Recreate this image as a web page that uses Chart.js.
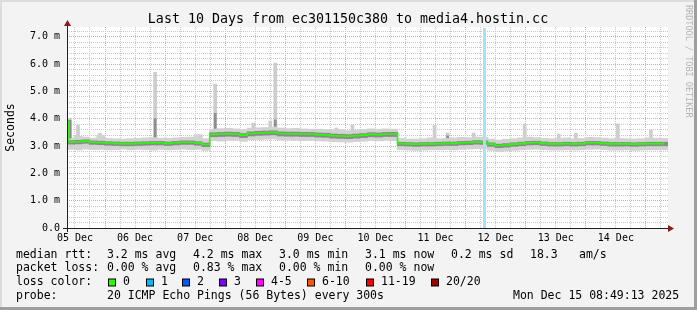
<!DOCTYPE html>
<html>
<head>
<meta charset="utf-8">
<script src="https://cdn.jsdelivr.net/npm/chart.js@4.4.0/dist/chart.umd.min.js"></script>
<style>
  html, body { margin: 0; padding: 0; background: #f3f3f3; }
  canvas { display: block; }
</style>
</head>
<body>
<canvas id="chart" width="697" height="310"></canvas>
<script>
// --- Data (hours counted from 05 Dec 00:00) ---
const startHour = 8.817;   // 05 Dec 08:49
const endHour = 248.817;   // 15 Dec 08:49
const markerHour = 175.2;  // light blue vertical rule

const dayLabels = ['05 Dec', '06 Dec', '07 Dec', '08 Dec', '09 Dec',
                   '10 Dec', '11 Dec', '12 Dec', '13 Dec', '14 Dec'];

// sample times: first sample, then one every 3 hours
const hours = [8.9];
for (let h = 10.3; h <= 247.4; h += 3) hours.push(h);

// median rtt in ms
const medianRtt = [3.90,
  3.15, 3.16, 3.18, 3.14, 3.13, 3.11, 3.10, 3.09, 3.09, 3.10, 3.11, 3.12, 3.12, 3.10, 3.12, 3.14, 3.14, 3.11, 3.06,
  3.43, 3.44, 3.45, 3.44, 3.40, 3.46, 3.48, 3.49, 3.50, 3.46, 3.45, 3.45, 3.44, 3.44, 3.42, 3.41, 3.38, 3.37, 3.36, 3.38, 3.40, 3.43, 3.42, 3.44, 3.44,
  3.09, 3.08, 3.07, 3.08, 3.08, 3.09, 3.10, 3.10, 3.12, 3.13, 3.15, 3.14, 3.07, 3.02, 3.04, 3.07, 3.09, 3.12, 3.13, 3.10, 3.08, 3.08, 3.09, 3.08, 3.09, 3.12, 3.12, 3.10, 3.08, 3.08, 3.08, 3.07, 3.08, 3.09, 3.09, 3.09];

// smoke: lowest / highest ping
const smokeMin = [3.05,
  2.88, 2.86, 2.89, 2.87, 2.88, 2.86, 2.87, 2.89, 2.86, 2.88, 2.87, 2.85, 2.88, 2.86, 2.87, 2.89, 2.87, 2.88, 2.84,
  3.20, 3.18, 3.21, 3.22, 3.17, 3.23, 3.24, 3.25, 3.26, 3.22, 3.22, 3.21, 3.20, 3.21, 3.19, 3.18, 3.16, 3.15, 3.14, 3.16, 3.18, 3.20, 3.19, 3.21, 3.20,
  2.86, 2.85, 2.84, 2.85, 2.86, 2.86, 2.87, 2.86, 2.88, 2.89, 2.90, 2.90, 2.84, 2.80, 2.82, 2.84, 2.86, 2.88, 2.89, 2.87, 2.85, 2.85, 2.86, 2.85, 2.86, 2.88, 2.89, 2.87, 2.85, 2.85, 2.86, 2.84, 2.85, 2.86, 2.86, 2.86];
const smokeMax = [4.02,
  3.30, 3.36, 3.33, 3.29, 3.40, 3.28, 3.27, 3.26, 3.27, 3.28, 3.30, 3.31, 3.29, 3.28, 3.30, 3.32, 3.33, 3.42, 3.27,
  3.62, 3.64, 3.65, 3.63, 3.60, 3.66, 3.67, 3.68, 3.70, 3.66, 3.64, 3.65, 3.63, 3.62, 3.62, 3.60, 3.58, 3.60, 3.56, 3.58, 3.60, 3.63, 3.62, 3.63, 3.62,
  3.28, 3.26, 3.26, 3.27, 3.30, 3.27, 3.28, 3.30, 3.32, 3.31, 3.33, 3.32, 3.26, 3.22, 3.25, 3.27, 3.30, 3.33, 3.31, 3.28, 3.27, 3.28, 3.30, 3.27, 3.28, 3.32, 3.31, 3.29, 3.27, 3.28, 3.27, 3.26, 3.27, 3.30, 3.29, 3.28];

// smoke: dense middle part of the pings
const smokeLow = [3.30,
  3.07, 3.08, 3.10, 3.06, 3.05, 3.03, 3.02, 3.01, 3.01, 3.02, 3.03, 3.04, 3.04, 3.02, 3.04, 3.06, 3.06, 3.03, 2.98,
  3.34, 3.35, 3.36, 3.35, 3.31, 3.37, 3.39, 3.40, 3.41, 3.37, 3.36, 3.36, 3.35, 3.35, 3.33, 3.32, 3.29, 3.28, 3.27, 3.29, 3.31, 3.34, 3.33, 3.35, 3.35,
  3.01, 3.00, 2.99, 3.00, 3.00, 3.01, 3.02, 3.02, 3.04, 3.05, 3.07, 3.06, 2.99, 2.94, 2.96, 2.99, 3.01, 3.04, 3.05, 3.02, 3.00, 3.00, 3.01, 3.00, 3.01, 3.04, 3.04, 3.02, 3.00, 3.00, 3.00, 2.99, 3.00, 3.01, 3.01, 3.01];
const smokeHigh = [3.95,
  3.20, 3.21, 3.23, 3.19, 3.18, 3.16, 3.15, 3.14, 3.14, 3.15, 3.16, 3.17, 3.17, 3.15, 3.17, 3.19, 3.19, 3.16, 3.11,
  3.49, 3.50, 3.51, 3.50, 3.46, 3.52, 3.54, 3.55, 3.56, 3.52, 3.51, 3.51, 3.50, 3.50, 3.48, 3.47, 3.44, 3.43, 3.42, 3.44, 3.46, 3.49, 3.48, 3.50, 3.50,
  3.14, 3.13, 3.12, 3.13, 3.13, 3.14, 3.15, 3.15, 3.17, 3.18, 3.20, 3.19, 3.12, 3.07, 3.09, 3.12, 3.14, 3.17, 3.18, 3.15, 3.13, 3.13, 3.14, 3.13, 3.14, 3.17, 3.17, 3.15, 3.13, 3.13, 3.13, 3.12, 3.13, 3.14, 3.14, 3.14];

// single slow pings sticking out of the smoke
const spikeHours = [13.2, 22.0, 44.0, 68.0, 83.2, 90.0, 92.0, 116.4, 122.8, 155.6, 160.8, 171.2, 191.6, 205.2, 212.0, 228.8, 242.0];
const spikeBase  = [3.15, 3.12, 3.12, 3.44, 3.48, 3.50, 3.50, 3.38, 3.36, 3.10, 3.12, 3.15, 3.12, 3.09, 3.09, 3.08, 3.09];
const spikeTop   = [3.77, 3.47, 5.70, 5.27, 3.84, 3.92, 6.04, 3.66, 3.77, 3.76, 3.48, 3.48, 3.81, 3.44, 3.47, 3.81, 3.59];
const spikeDark  = [null, null, 4.00, 4.20, null, null, 3.96, null, null, null, 3.37, null, null, null, null, null, null];

// legend texts
const rttStats  = ['3.2 ms avg', '4.2 ms max', '3.0 ms min', '3.1 ms now', '0.2 ms sd'];
const lossStats = ['0.00 % avg', '0.83 % max', '0.00 % min', '0.00 % now'];
const lossLabels = ['0', '1', '2', '3', '4-5', '6-10', '11-19', '20/20'];
const lossColors = ['#26ff00', '#00b8ff', '#0059ff', '#7e00ff', '#ff00ff', '#ff5500', '#ff0000', '#a10000'];

// --- Helpers ---
const MONO = '"DejaVu Sans Mono", monospace';
const pts = arr => hours.map((h, i) => ({ x: h, y: arr[i] }));
const range = (lo, hi) => hours.map((h, i) => ({ x: h, y: [lo[i], hi[i]] }));
const isWhole = v => Math.abs(v - Math.round(v)) < 1e-6;

// --- Decorations in rrdtool style ---
const rrdDecor = {
    id: 'rrdDecor',
    beforeDraw(chart) {
        const { ctx, chartArea: a, width, height } = chart;
        ctx.save();
        ctx.fillStyle = '#f3f3f3';
        ctx.fillRect(0, 0, width, height);
        ctx.fillStyle = '#dcdcdc';
        ctx.fillRect(0, 0, width, 2);
        ctx.fillRect(0, 0, 2, height);
        ctx.fillStyle = '#9e9e9e';
        ctx.fillRect(0, height - 3, width, 3);
        ctx.fillRect(width - 3, 0, 3, height);
        ctx.fillStyle = '#ffffff';
        ctx.fillRect(a.left, a.top, a.right - a.left, a.bottom - a.top);
        ctx.restore();
    },
    afterDatasetsDraw(chart) {
        const { ctx, chartArea: a } = chart;
        const mx = Math.round(chart.scales.x.getPixelForValue(markerHour));
        ctx.save();
        // vertical rule
        ctx.fillStyle = '#a9e0f6';
        ctx.fillRect(mx - 1, a.top + 1, 3, a.bottom - a.top - 1);
        // axes
        ctx.strokeStyle = '#202020';
        ctx.lineWidth = 1;
        ctx.beginPath();
        ctx.moveTo(a.left + 0.5, a.bottom + 4);
        ctx.lineTo(a.left + 0.5, a.top - 3);
        ctx.moveTo(a.left - 4, a.bottom + 0.5);
        ctx.lineTo(a.right + 1, a.bottom + 0.5);
        ctx.stroke();
        // arrows
        ctx.fillStyle = '#8c1a1a';
        ctx.beginPath();
        ctx.moveTo(a.left + 0.5, a.top - 7);
        ctx.lineTo(a.left - 3, a.top - 1);
        ctx.lineTo(a.left + 4, a.top - 1);
        ctx.closePath();
        ctx.fill();
        ctx.beginPath();
        ctx.moveTo(a.right + 6, a.bottom + 0.5);
        ctx.lineTo(a.right, a.bottom - 3);
        ctx.lineTo(a.right, a.bottom + 4);
        ctx.closePath();
        ctx.fill();
        ctx.restore();
    },
    afterDraw(chart) {
        const { ctx } = chart;
        ctx.save();
        ctx.fillStyle = '#000';
        ctx.textBaseline = 'middle';

        // title
        ctx.font = '13.3px ' + MONO;
        ctx.textAlign = 'center';
        ctx.fillText('Last 10 Days from ec301150c380 to media4.hostin.cc', 348, 19.5);

        // watermark
        ctx.save();
        ctx.translate(688, 5);
        ctx.rotate(Math.PI / 2);
        ctx.font = '8.5px ' + MONO;
        ctx.fillStyle = '#b4b4b4';
        ctx.textAlign = 'left';
        ctx.fillText('RRDTOOL / TOBI OETIKER', 0, 0);
        ctx.restore();

        // legend
        ctx.font = '11.5px ' + MONO;
        ctx.textAlign = 'left';
        const cols = [107, 193, 279, 365, 451];
        const rows = [255, 268.5, 282.5, 296];

        ctx.fillText('median rtt:', 16, rows[0]);
        rttStats.forEach((s, i) => ctx.fillText(s, cols[i], rows[0]));
        ctx.fillText('18.3', 530, rows[0]);
        ctx.fillText('am/s', 579, rows[0]);

        ctx.fillText('packet loss:', 16, rows[1]);
        lossStats.forEach((s, i) => ctx.fillText(s, cols[i], rows[1]));

        ctx.fillText('loss color:', 16, rows[2]);
        const boxX = [108, 146, 182, 219, 256, 307, 366, 431];
        lossLabels.forEach((label, i) => {
            ctx.fillStyle = '#000';
            ctx.fillRect(boxX[i], rows[2] - 4, 8, 8);
            ctx.fillStyle = lossColors[i];
            ctx.fillRect(boxX[i] + 1, rows[2] - 3, 6, 6);
            ctx.fillStyle = '#000';
            ctx.fillText(label, boxX[i] + 15, rows[2]);
        });

        ctx.fillText('probe:', 16, rows[3]);
        ctx.fillText('20 ICMP Echo Pings (56 Bytes) every 300s', 107, rows[3]);
        ctx.fillText('Mon Dec 15 08:49:13 2025', 513, rows[3]);
        ctx.restore();
    }
};

// --- Chart ---
const barBase = { type: 'bar', grouped: false, borderWidth: 0, borderSkipped: false };

const spikeLight = spikeHours.map((h, i) => ({ x: h, y: [spikeBase[i], spikeTop[i]] }));
const spikeDarkPts = spikeHours
    .map((h, i) => ({ x: h, y: [spikeBase[i], spikeDark[i]] }))
    .filter((p, i) => spikeDark[i] !== null);

new Chart(document.getElementById('chart'), {
    type: 'line',
    data: {
        datasets: [
            { ...barBase, label: 'spikes', data: spikeLight, backgroundColor: '#cdcdcd', barThickness: 3, order: 12 },
            { ...barBase, label: 'spikes dark', data: spikeDarkPts, backgroundColor: '#8e8e8e', barThickness: 2, order: 11 },
            { ...barBase, label: 'smoke outer', data: range(smokeMin, smokeMax), backgroundColor: '#d2d2d2', barThickness: 8, order: 10 },
            { ...barBase, label: 'smoke inner', data: range(smokeLow, smokeHigh), backgroundColor: '#8a8a8a', barThickness: 8, order: 9 },
            { type: 'line', label: 'median', data: pts(medianRtt), borderColor: lossColors[0], borderWidth: 1.6,
              pointRadius: 0, stepped: 'middle', fill: false, order: 0 }
        ]
    },
    options: {
        responsive: false,
        animation: false,
        devicePixelRatio: 1,
        layout: { padding: { left: 0, top: 27, right: 29, bottom: 66 } },
        plugins: {
            legend: { display: false },
            tooltip: { enabled: false },
            title: { display: false }
        },
        scales: {
            x: {
                type: 'linear',
                min: startHour,
                max: endHour,
                offset: false,
                afterBuildTicks: scale => {
                    const ticks = [];
                    for (let v = 12; v < endHour; v += 6) ticks.push({ value: v });
                    scale.ticks = ticks;
                },
                afterFit: scale => { scale.height = 16; },
                ticks: {
                    autoSkip: false,
                    maxRotation: 0,
                    padding: 4,
                    color: '#000',
                    font: { family: MONO, size: 10 },
                    callback: v => (v % 24 === 12 ? dayLabels[Math.floor(v / 24)] : '')
                },
                grid: {
                    offset: false,
                    drawTicks: false,
                    lineWidth: 1,
                    color: ctx => (ctx.tick && ctx.tick.value % 24 === 0 ? '#e6a2a2' : '#c8c8c8')
                },
                border: { display: false, dash: [1, 1] }
            },
            y: {
                type: 'linear',
                min: 0,
                max: 7.36,
                afterBuildTicks: scale => {
                    const ticks = [];
                    for (let k = 0; k <= 36; k++) ticks.push({ value: k / 5 });
                    scale.ticks = ticks;
                },
                afterFit: scale => { scale.width = 67; },
                ticks: {
                    autoSkip: false,
                    padding: 7,
                    color: '#000',
                    font: { family: MONO, size: 10 },
                    callback: v => (isWhole(v) ? (v === 0 ? '0.0' : v.toFixed(1) + ' m') : '')
                },
                title: {
                    display: true,
                    text: 'Seconds',
                    color: '#000',
                    font: { family: MONO, size: 11.5 },
                    padding: { top: 4, bottom: 0 }
                },
                grid: {
                    drawTicks: false,
                    lineWidth: 1,
                    color: ctx => (ctx.tick && isWhole(ctx.tick.value) ? '#e6a2a2' : '#c8c8c8')
                },
                border: { display: false, dash: [1, 1] }
            }
        }
    },
    plugins: [rrdDecor]
});
</script>
</body>
</html>
